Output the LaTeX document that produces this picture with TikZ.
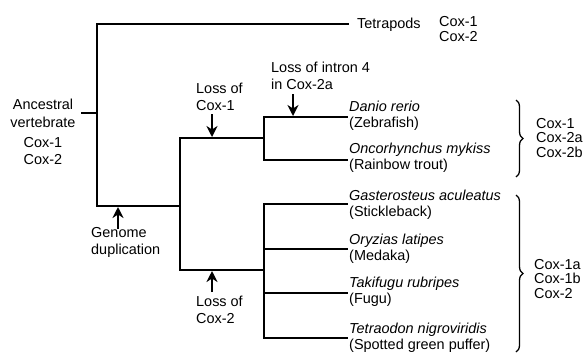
\documentclass[tikz,border=0pt]{standalone}
\usepackage{fontspec}
\setmainfont{Liberation Sans}
\usetikzlibrary{arrows.meta,decorations.pathreplacing}
\begin{document}
\begin{tikzpicture}[x=1bp,y=-1bp,
  tree/.style={line width=1.4bp, line cap=rect},
  arr/.style={line width=1.8bp, -{Stealth[length=11bp,width=11bp,inset=3.5bp]}},
  brc/.style={line width=1.3bp, decorate, decoration={brace, amplitude=7bp, aspect=0.5}},
  lbl/.style={inner sep=0pt, anchor=west, align=left, font=\fontsize{14.5}{17}\selectfont},
  sp/.style={inner sep=0pt, anchor=west, align=left, font=\fontsize{14.5}{16}\selectfont},
  lst/.style={inner sep=0pt, anchor=west, align=left, font=\fontsize{14.5}{14.5}\selectfont},
  ctr/.style={inner sep=0pt, align=center, font=\fontsize{14.5}{18}\selectfont}]
\useasboundingbox (0,0) rectangle (583,355);

% tree coordinates
\coordinate (root) at (97,113);
\coordinate (tT) at (348,24);
\coordinate (rB) at (97,206);
\coordinate (fJ) at (180,206);
\coordinate (fT) at (180,138);
\coordinate (fB) at (180,270);
\coordinate (uJ) at (264,138);
\coordinate (uB) at (264,160);
\coordinate (lJ) at (264,270);
\coordinate (lB) at (264,338);
\coordinate (lOr) at (264,249);
\coordinate (lTk) at (264,293);
\coordinate (tD) at (347,117);
\coordinate (tO) at (347,160);
\coordinate (tG) at (347,204);
\coordinate (tOr) at (347,249);
\coordinate (tTk) at (347,293);
\coordinate (tTe) at (347,338);

% root labels
\node[ctr] (anc) at (43,113) {Ancestral\\vertebrate};
\node[ctr] (anccox) at (43,151) {Cox-1\\Cox-2};
\coordinate (stub) at (82,113);

% tree
\draw[tree] (stub) -- (root);
\draw[tree] (tT) -| (rB) -- (fJ);
\draw[tree] (fT) -- (fB);
\draw[tree] (fT) -- (uJ);
\draw[tree] (tD) -| (uB) -- (tO);
\draw[tree] (fB) -- (lJ);
\draw[tree] (tG) -| (lB) -- (tTe);
\draw[tree] (lOr) -- (tOr);
\draw[tree] (lTk) -- (tTk);

% tip labels
\node[lbl] (tet) at (357,25) {Tetrapods};
\node[lst, font=\fontsize{14.5}{16}\selectfont] (tetcox) at (439,29) {Cox-1\\Cox-2};
\node[sp] (danio) at (349,116) {\textit{Danio rerio}\\(Zebrafish)};
\node[sp] (onco) at (349,158) {\textit{Oncorhynchus mykiss}\\(Rainbow trout)};
\node[sp] (gast) at (349,205) {\textit{Gasterosteus aculeatus}\\(Stickleback)};
\node[sp] (ory) at (349,249) {\textit{Oryzias latipes}\\(Medaka)};
\node[sp] (taki) at (349,292) {\textit{Takifugu rubripes}\\(Fugu)};
\node[sp] (tetra) at (349,338) {\textit{Tetraodon nigroviridis}\\(Spotted green puffer)};

% braces
\coordinate (b1t) at (516,100);
\coordinate (b1b) at (516,177);
\coordinate (b2t) at (516,195);
\coordinate (b2b) at (516,352);
\draw[brc] (b1t) -- (b1b);
\draw[brc] (b2t) -- (b2b);
\node[lst] (cox1) at (536,138) {Cox-1\\Cox-2a\\Cox-2b};
\node[lst] (cox2) at (534,279) {Cox-1a\\Cox-1b\\Cox-2};

% events
\node[lbl] (l1) at (196,97) {Loss of\\Cox-1};
\coordinate (a1s) at (212,114);
\coordinate (a1e) at (212,137);
\draw[arr] (a1s) -- (a1e);

\node[lbl] (li) at (271,76) {Loss of intron 4\\in Cox-2a};
\coordinate (a2s) at (293,94);
\coordinate (a2e) at (293,116);
\draw[arr] (a2s) -- (a2e);

\node[lbl] (gdup) at (91,242) {Genome\\duplication};
\coordinate (a3s) at (118,229);
\coordinate (a3e) at (118,207);
\draw[arr] (a3s) -- (a3e);

\node[lbl] (l2) at (196,310) {Loss of\\Cox-2};
\coordinate (a4s) at (212,292);
\coordinate (a4e) at (212,271);
\draw[arr] (a4s) -- (a4e);
\end{tikzpicture}
\end{document}
